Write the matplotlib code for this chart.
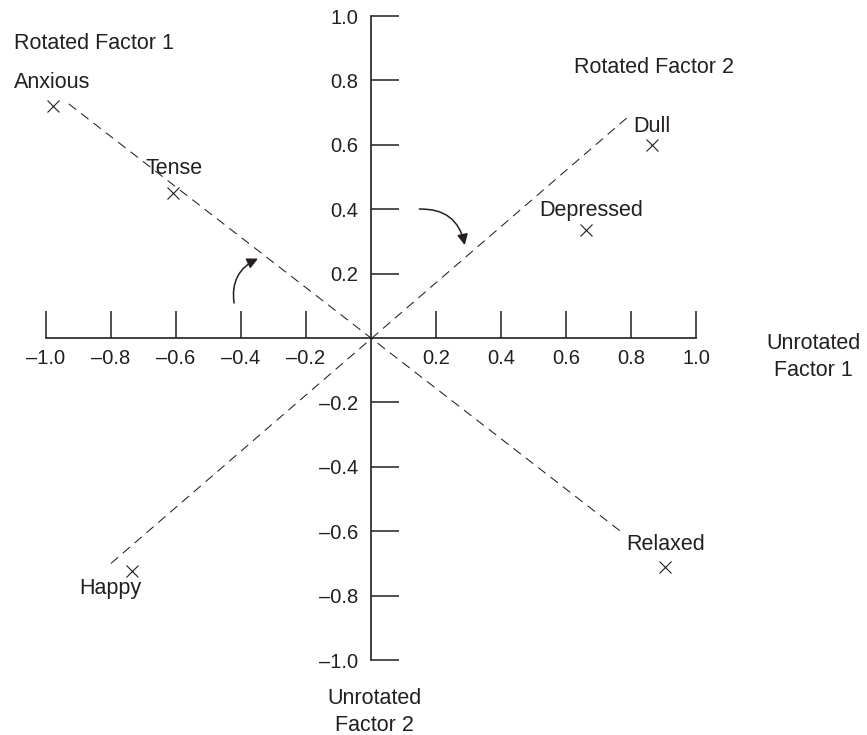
"""
Factor rotation diagram: unrotated vs rotated factor loadings.
"""

import matplotlib.pyplot as plt

# loadings (unrotated factor 1, unrotated factor 2)
words = ["Anxious", "Tense", "Dull", "Depressed", "Happy", "Relaxed"]
factor1 = [-0.98, -0.61, 0.865, 0.66, -0.735, 0.905]
factor2 = [0.72, 0.45, 0.60, 0.335, -0.725, -0.71]

# rotated axes (dashed), end points
rot1_x = [-0.93, 0.775]
rot1_y = [0.727, -0.606]
rot2_x = [-0.80, 0.79]
rot2_y = [-0.70, 0.686]

tick_values = [-1.0, -0.8, -0.6, -0.4, -0.2, 0.2, 0.4, 0.6, 0.8, 1.0]
tick_labels = ["\u20131.0", "\u20130.8", "\u20130.6", "\u20130.4", "\u20130.2",
               "0.2", "0.4", "0.6", "0.8", "1.0"]

# where each word label sits relative to its cross (points)
label_offsets = {
    "Anxious": (0, 17),
    "Tense": (1, 18),
    "Dull": (0, 13),
    "Depressed": (4, 14),
    "Happy": (-16, -12),
    "Relaxed": (0, 16),
}

ink = "#231f20"
plt.rcParams["font.family"] = ["Liberation Sans", "DejaVu Sans"]

fig = plt.figure(figsize=(8.67, 7.35), dpi=100)
ax = fig.add_axes([0, 0, 1, 1])
ax.set_xlim(-371 / 325, (867 - 371) / 325)
ax.set_ylim(-(735 - 338) / 322, 338 / 322)

# axes through the origin
for side in ["top", "right"]:
    ax.spines[side].set_visible(False)
for side in ["bottom", "left"]:
    ax.spines[side].set_position(("data", 0))
    ax.spines[side].set_bounds(-1, 1)
    ax.spines[side].set_color(ink)
    ax.spines[side].set_linewidth(1.2)

ax.set_xticks(tick_values)
ax.set_xticklabels(tick_labels)
ax.set_yticks(tick_values)
ax.set_yticklabels(tick_labels)
ax.tick_params(axis="x", direction="in", length=19.5, width=1.1, color=ink,
               labelsize=14.5, labelcolor=ink, pad=8)
ax.tick_params(axis="y", direction="in", length=20, width=1.1, color=ink,
               labelsize=14.5, labelcolor=ink, pad=9)

# rotated factor axes
ax.plot(rot1_x, rot1_y, color=ink, lw=0.75, linestyle=(0, (9, 6)))
ax.plot(rot2_x, rot2_y, color=ink, lw=0.75, linestyle=(0, (9, 6)))

# loadings
ax.plot(factor1, factor2, linestyle="none", marker="x", markersize=8.5,
        markeredgewidth=0.8, color=ink)
for w, x, y in zip(words, factor1, factor2):
    ax.annotate(w, (x, y), xytext=label_offsets[w], textcoords="offset points",
                ha="center", va="center", fontsize=15.5, color=ink)

# rotation arrows
ax.annotate("", xy=(-0.34, 0.25), xytext=(-0.42, 0.10),
            arrowprops=dict(arrowstyle="-|>", color=ink, lw=1.1,
                            mutation_scale=16,
                            connectionstyle="arc3,rad=-0.4"))
ax.annotate("", xy=(0.29, 0.28), xytext=(0.14, 0.40),
            arrowprops=dict(arrowstyle="-|>", color=ink, lw=1.1,
                            mutation_scale=16,
                            connectionstyle="arc3,rad=-0.45"))

ax.text(-1.098, 0.916, "Rotated Factor 1", ha="left", va="center",
        fontsize=15.5, color=ink)
ax.text(0.625, 0.839, "Rotated Factor 2", ha="left", va="center",
        fontsize=15.5, color=ink)
ax.text(1.36, -0.059, "Unrotated\nFactor 1", ha="center", va="center",
        fontsize=15.5, color=ink, linespacing=1.35)
ax.text(0.012, -1.161, "Unrotated\nFactor 2", ha="center", va="center",
        fontsize=15.5, color=ink, linespacing=1.35)

fig.savefig("out.png", dpi=100)
